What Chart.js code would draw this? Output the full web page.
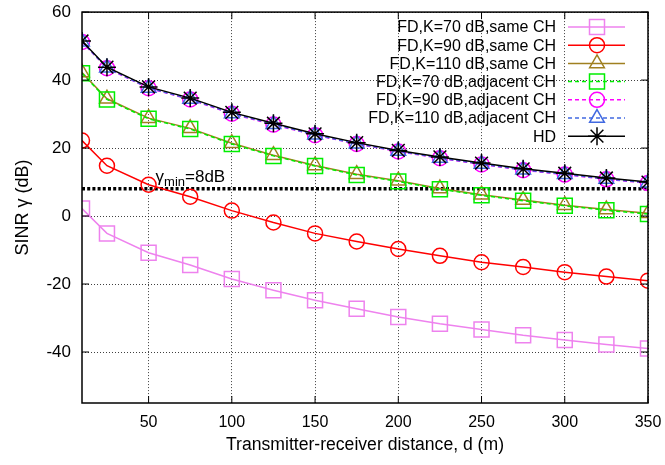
<!DOCTYPE html>
<html><head><meta charset="utf-8">
<script src="https://cdn.jsdelivr.net/npm/chart.js@4/dist/chart.umd.min.js"></script>
<style>html,body{margin:0;padding:0;background:#fff}#wrap{width:665px;height:465px}</style>
</head><body><div id="wrap"><canvas id="c" width="665" height="465"></canvas></div>
<script>
const distances = [10,25,50,75,100,125,150,175,200,225,250,275,300,325,350];
const fdK70Same  = [2.2,-5.1,-10.8,-14.4,-18.5,-21.8,-24.8,-27.3,-29.7,-31.7,-33.4,-35.1,-36.5,-37.8,-39.0];
const fdK90Same  = [22.2,14.8,9.2,5.7,1.6,-1.9,-5.1,-7.5,-9.7,-11.7,-13.6,-15.0,-16.5,-17.8,-19.0];
const fdK110Same = [42.2,34.5,28.8,25.8,21.4,17.9,14.9,12.3,10.4,8.1,6.3,4.7,3.2,1.9,0.8];
const fdK70Adj   = [42.0,34.3,28.6,25.6,21.2,17.7,14.7,12.1,10.2,7.9,6.1,4.5,3.0,1.7,0.6];
const fdK90Adj   = [51.2,43.5,37.6,34.3,30.1,26.9,23.8,21.2,19.0,17.0,15.2,13.5,12.2,10.8,9.7];
const fdK110Adj  = [51.3,43.6,37.7,34.4,30.2,27.0,23.9,21.3,19.1,17.1,15.3,13.6,12.3,10.9,9.8];
const hd         = [51.5,43.8,38.0,34.7,30.5,27.3,24.2,21.6,19.3,17.4,15.6,13.9,12.6,11.2,10.0];
const seriesNames = ["FD,K=70 dB,same CH","FD,K=90 dB,same CH","FD,K=110 dB,same CH","FD,K=70 dB,adjacent CH","FD,K=90 dB,adjacent CH","FD,K=110 dB,adjacent CH","HD"];
const gammaMin = 8;
const xTicks = [50,100,150,200,250,300,350];
const yTicks = [-40,-20,0,20,40,60];

const FONT = "'Liberation Sans', Arial, sans-serif";
const styles = [
  {c:'#ee82ee', p:'rect', r:10.6, dash:[]},
  {c:'#ff0000', p:'circle', r:7.5, dash:[]},
  {c:'#a08020', p:'triangle', r:8.5, dash:[]},
  {c:'#00ee00', p:'rect', r:10.6, dash:[4,3]},
  {c:'#ff00ff', p:'circle', r:7.5, dash:[4,3]},
  {c:'#4169e1', p:'triangle', r:8.5, dash:[4,3]},
  {c:'#000000', p:'star', r:9, dash:[]}
];
const allSeries = [fdK70Same, fdK90Same, fdK110Same, fdK70Adj, fdK90Adj, fdK110Adj, hd];
const drawOrder = [6,5,4,3,2,1,0];

const datasets = allSeries.map((s,i)=>({
  label: seriesNames[i],
  data: distances.map((d,j)=>({x:d,y:s[j]})),
  borderColor: styles[i].c,
  backgroundColor: 'rgba(0,0,0,0)',
  pointBackgroundColor: 'rgba(0,0,0,0)',
  pointBorderColor: styles[i].c,
  pointStyle: styles[i].p,
  pointRadius: styles[i].r,
  pointBorderWidth: 1.5,
  borderWidth: 1.5,
  borderDash: styles[i].dash,
  tension: 0,
  order: drawOrder[i]
}));
datasets.push({
  label: 'gammaMin',
  data: [{x:distances[0],y:gammaMin},{x:distances[distances.length-1],y:gammaMin}],
  borderColor:'#000', borderWidth:3.5, borderDash:[3,2.2], pointRadius:0, order:10
});

function mark(ctx, style, r, x, y){
  ctx.beginPath();
  if(style==='rect'){const s=Math.SQRT1_2*r;ctx.rect(x-s,y-s,2*s,2*s);}
  else if(style==='circle'){ctx.arc(x,y,r,0,Math.PI*2);}
  else if(style==='triangle'){
    let a=0; ctx.moveTo(x+Math.sin(a)*r,y-Math.cos(a)*r);
    a+=2*Math.PI/3; ctx.lineTo(x+Math.sin(a)*r,y-Math.cos(a)*r);
    a+=2*Math.PI/3; ctx.lineTo(x+Math.sin(a)*r,y-Math.cos(a)*r); ctx.closePath();
  } else if(style==='star'){
    ctx.moveTo(x,y-r);ctx.lineTo(x,y+r);ctx.moveTo(x-r,y);ctx.lineTo(x+r,y);
    const d=r*Math.SQRT1_2; ctx.moveTo(x-d,y-d);ctx.lineTo(x+d,y+d);ctx.moveTo(x-d,y+d);ctx.lineTo(x+d,y-d);
  }
  ctx.stroke();
}

const framePlugin = {
  id:'frame',
  afterDraw(chart){
    const ctx=chart.ctx, a=chart.chartArea, xs=chart.scales.x, ys=chart.scales.y;
    ctx.save();
    ctx.strokeStyle='#000'; ctx.lineWidth=1.5; ctx.setLineDash([]);
    ctx.strokeRect(a.left,a.top,a.right-a.left,a.bottom-a.top);
    ctx.lineWidth=1;
    ctx.beginPath();
    yTicks.forEach(v=>{const y=ys.getPixelForValue(v); ctx.moveTo(a.left,y);ctx.lineTo(a.left+7,y);ctx.moveTo(a.right,y);ctx.lineTo(a.right-7,y);});
    xTicks.forEach(v=>{const x=xs.getPixelForValue(v); ctx.moveTo(x,a.bottom);ctx.lineTo(x,a.bottom-7);ctx.moveTo(x,a.top);ctx.lineTo(x,a.top+7);});
    ctx.stroke();
    // gamma label
    const gx=xs.getPixelForValue(50)+7, gy=ys.getPixelForValue(gammaMin)-7;
    ctx.fillStyle='#000'; ctx.textBaseline='alphabetic'; ctx.textAlign='left';
    ctx.font='17px '+FONT; ctx.fillText('γ',gx,gy);
    let w=ctx.measureText('γ').width;
    ctx.font='13px '+FONT; ctx.fillText('min',gx+w,gy+4);
    w+=ctx.measureText('min').width;
    ctx.font='17px '+FONT; ctx.fillText('=8dB',gx+w,gy);
    // legend
    ctx.font='16px '+FONT; ctx.textAlign='right'; ctx.textBaseline='middle';
    seriesNames.forEach((n,i)=>{
      const y=27+18.2*i;
      ctx.fillStyle='#000'; ctx.fillText(n,556,y+1);
      ctx.strokeStyle=styles[i].c; ctx.lineWidth=1.5; ctx.setLineDash(styles[i].dash);
      ctx.beginPath(); ctx.moveTo(568,y); ctx.lineTo(625,y); ctx.stroke();
      ctx.setLineDash([]);
      mark(ctx,styles[i].p,styles[i].r,597,y);
    });
    ctx.restore();
  }
};

new Chart(document.getElementById('c'),{
  type:'line',
  data:{datasets},
  plugins:[framePlugin],
  options:{
    responsive:false, animation:false,
    layout:{padding:{top:11,right:17,left:0,bottom:0}},
    plugins:{legend:{display:false},tooltip:{enabled:false}},
    scales:{
      x:{type:'linear',min:10,max:350,
        afterBuildTicks(s){s.ticks=xTicks.map(v=>({value:v}));},
        afterFit(s){s.height=62;s.paddingLeft=0;s.paddingRight=0;},
        grid:{color:'rgba(0,0,0,0.75)',lineWidth:1,drawTicks:false},
        border:{display:false,dash:[1,2]},
        ticks:{color:'#000',font:{size:16,family:FONT},padding:10,maxRotation:0},
        title:{display:true,text:'Transmitter-receiver distance, d (m)',color:'#000',font:{size:17.6,family:FONT},padding:{top:0,bottom:9}}
      },
      y:{type:'linear',min:-55,max:60,
        afterBuildTicks(s){s.ticks=yTicks.map(v=>({value:v}));},
        afterFit(s){s.width=82;s.paddingTop=0;s.paddingBottom=0;},
        grid:{color:'rgba(0,0,0,0.75)',lineWidth:1,drawTicks:false},
        border:{display:false,dash:[1,2]},
        ticks:{color:'#000',font:{size:17,family:FONT},padding:11},
        title:{display:true,text:'SINR γ (dB)',color:'#000',font:{size:18,family:FONT},padding:{top:12,bottom:0}}
      }
    }
  }
});
</script></body></html>
